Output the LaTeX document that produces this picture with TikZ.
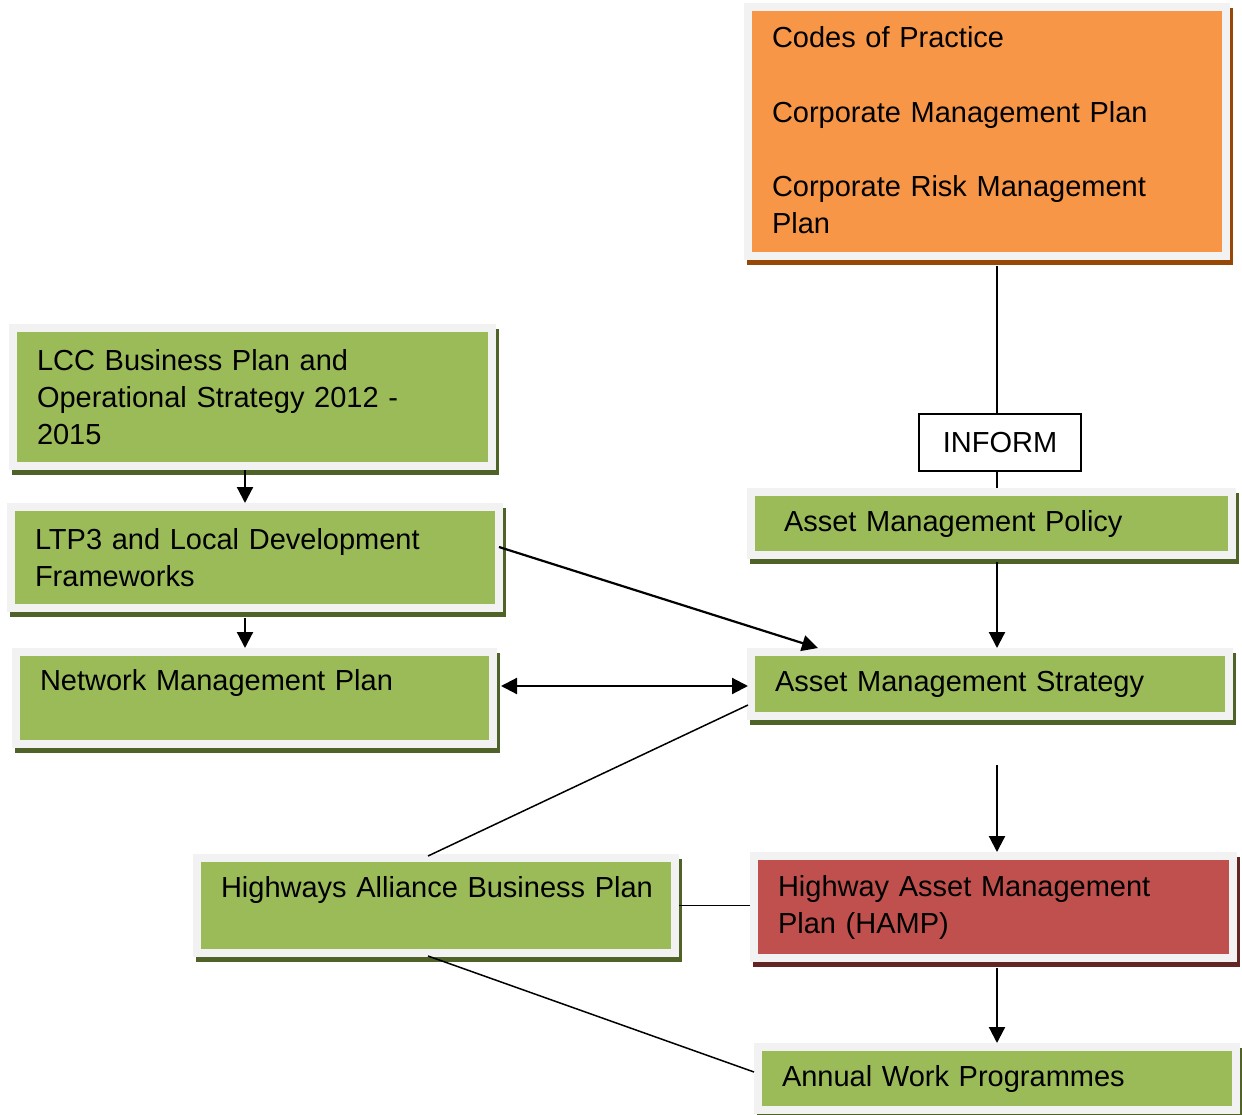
\documentclass[tikz,border=0pt]{standalone}
\usepackage{fontspec}
\setmainfont{Liberation Sans}
\usepackage{tikz}
\usetikzlibrary{arrows.meta,calc}
\definecolor{boxgreen}{HTML}{9BBB59}
\definecolor{shadegreen}{HTML}{4F6228}
\definecolor{boxorange}{HTML}{F79646}
\definecolor{shadeorange}{HTML}{974806}
\definecolor{boxred}{HTML}{C0504D}
\definecolor{shadered}{HTML}{632423}
\definecolor{framegray}{HTML}{F2F2F2}

\begin{document}
\begin{tikzpicture}[x=1pt,y=-1pt,
  every node/.style={font=\fontsize{29}{37}\selectfont, text=black},
  planbox/.style 2 args={rectangle, draw=framegray, line width=8pt, fill=#1,
    preaction={draw=#2, fill=#2, transform canvas={xshift=3pt,yshift=-5pt}},
    align=left, inner xsep=24pt, inner ysep=0pt},
  greenbox/.style={planbox={boxgreen}{shadegreen}},
  conn/.style={line width=2.2pt},
  thinconn/.style={line width=1.5pt},
  arr/.style={conn,-{Triangle[length=16pt,width=16pt]}},
  dblarr/.style={conn,{Triangle[length=16pt,width=16pt]}-{Triangle[length=16pt,width=16pt]}}]
\useasboundingbox (0,0) rectangle (1242,1115);
\coordinate (spine) at (997,0);
\coordinate (lspine) at (245,0);

\node[planbox={boxorange}{shadeorange}, text width=430pt, minimum height=249pt] (practice) at (987,131.5)
  {Codes of Practice\\[38pt]Corporate Management Plan\\[37pt]Corporate Risk Management\\Plan\rule[-4pt]{0pt}{4pt}};
\node[greenbox, text width=431pt, minimum height=138pt] (lcc) at (252.5,397)
  {LCC Business Plan and\\Operational Strategy 2012 -\\2015};
\node[greenbox, text width=440pt, minimum height=101pt] (ltp) at (255,557.5)
  {LTP3 and Local Development\\Frameworks};
\node[greenbox, text width=429pt, minimum height=92pt] (nmp) at (254.5,698)
  {Network Management Plan\\\mbox{}};
\node[draw=black, line width=2pt, minimum width=162pt, minimum height=57pt, inner sep=0pt] (inform) at (1000,442.5) {INFORM};
\node[greenbox, inner xsep=33pt, text width=415pt, minimum height=63pt] (policy) at (991.5,523.5)
  {Asset Management Policy};
\node[greenbox, text width=430pt, minimum height=64pt] (strat) at (990,684)
  {Asset Management Strategy};
\node[greenbox, text width=430pt, minimum height=95pt] (hab) at (436,905.5)
  {\mbox{Highways Alliance Business Plan}\\\mbox{}};
\node[planbox={boxred}{shadered}, text width=431pt, minimum height=102pt] (hamp) at (993.5,907)
  {Highway Asset Management\\Plan (HAMP)};
\node[greenbox, text width=430pt, minimum height=63pt] (annual) at (997,1078.5)
  {Annual Work Programmes};

\draw[conn] ($(practice.south -| spine)+(0,6)$) -- (inform.north -| spine);
\draw[conn] (inform.south -| spine) -- (policy.north -| spine);
\draw[arr] ($(policy.south -| spine)+(0,3)$) -- (strat.north -| spine);
\draw[arr] ($(strat.south -| spine)+(0,45)$) -- (hamp.north -| spine);
\draw[arr] ($(hamp.south -| spine)+(0,6)$) -- (annual.north -| spine);
\draw[arr] (lcc.south -| lspine) -- (ltp.north -| lspine);
\draw[arr] ($(ltp.south -| lspine)+(0,6)$) -- (nmp.north -| lspine);
\draw[arr] ([shift={(-4,-10.5)}]ltp.east) -- ([shift={(71,0)}]strat.north west);
\draw[dblarr] ([shift={(4,-12)}]nmp.east) -- ([shift={(1,2)}]strat.west);
\draw[thinconn] ([shift={(1,21)}]strat.west) -- ([shift={(-8,2)}]hab.north);
\draw[thinconn] (hab.east) -- (hab.east -| hamp.west);
\draw[thinconn] ([shift={(-8,-1)}]hab.south) -- ([shift={(0,-6.5)}]annual.west);
\end{tikzpicture}
\end{document}
